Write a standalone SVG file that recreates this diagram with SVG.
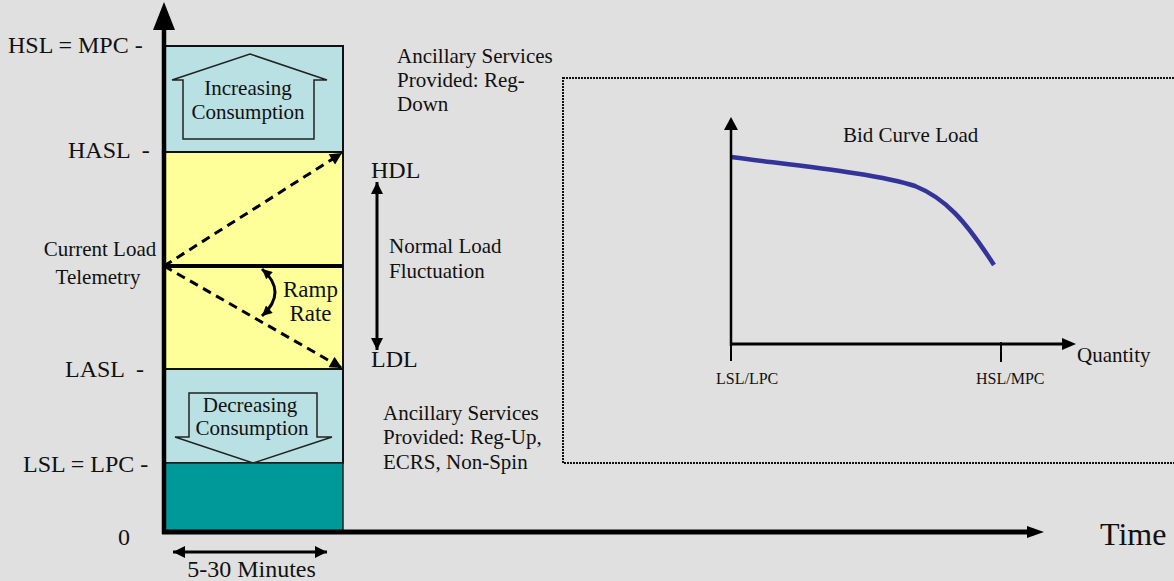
<svg xmlns="http://www.w3.org/2000/svg" width="1174" height="581" viewBox="0 0 1174 581">
<style>
text { font-family: "Liberation Serif", "Times New Roman", serif; fill: #111; }
.t24 { font-size: 24px; }
.t21 { font-size: 21px; }
.t16 { font-size: 16px; }
.band { stroke: #111; stroke-width: 2; }
.blue { fill: #B9E0E3; }
.blockarrow { fill: #B9E0E3; stroke: #222; stroke-width: 1.5; }
.dash { stroke: #000; stroke-width: 3; stroke-dasharray: 9 6; fill: none; }
.solid { stroke: #000; fill: none; }
</style>
<defs>
<marker id="ah" viewBox="0 0 10 10" refX="10" refY="5" markerWidth="14" markerHeight="12" markerUnits="userSpaceOnUse" orient="auto-start-reverse">
<path d="M0,0 L10,5 L0,10 z" fill="#000"/>
</marker>
<marker id="ahs" viewBox="0 0 10 10" refX="10" refY="5" markerWidth="11" markerHeight="10" markerUnits="userSpaceOnUse" orient="auto-start-reverse">
<path d="M0,0 L10,5 L0,10 z" fill="#000"/>
</marker>
<marker id="ahb" viewBox="0 0 10 10" refX="10" refY="5" markerWidth="14" markerHeight="12" markerUnits="userSpaceOnUse" orient="auto-start-reverse">
<path d="M0,0 L10,5 L0,10 z" fill="#000"/>
</marker>
</defs>
<rect x="0" y="0" width="1174" height="581" fill="#E0E0E0"/>

<g id="band-increasing">
<rect class="band blue" x="164" y="46" width="179" height="106"/>
<polygon class="blockarrow" points="250,54 327,80 314,80 314,139 183,139 183,80 172,80"/>
<text class="t21" x="248" y="95" text-anchor="middle">Increasing</text>
<text class="t21" x="248" y="119" text-anchor="middle">Consumption</text>
</g>
<g id="band-normal">
<rect class="band" x="164" y="152" width="179" height="217" fill="#FFFF99"/>
<line x1="164" y1="266" x2="343" y2="266" stroke="#000" stroke-width="4"/>
</g>
<g id="band-decreasing">
<rect class="band blue" x="164" y="369" width="179" height="94"/>
<polygon class="blockarrow" points="189,393 317,393 317,437 332,437 253,463 175,437 189,437"/>
<text class="t21" x="250" y="412" text-anchor="middle">Decreasing</text>
<text class="t21" x="252" y="435" text-anchor="middle">Consumption</text>
</g>
<g id="band-base">
<rect x="164" y="463" width="179" height="69" fill="#009999" stroke="#222" stroke-width="1.5"/>
</g>

<g id="labels-left">
<text class="t24" x="8" y="53">HSL = MPC -</text>
<text class="t24" x="68" y="158" xml:space="preserve">HASL  -</text>
<text class="t21" x="100" y="256" text-anchor="middle">Current Load</text>
<text class="t21" x="98" y="284" text-anchor="middle">Telemetry</text>
<text class="t24" x="65" y="377" xml:space="preserve">LASL  -</text>
<text class="t24" x="23" y="472">LSL = LPC -</text>
<text class="t24" x="118" y="545">0</text>
<text class="t24" x="251.5" y="577" text-anchor="middle">5-30 Minutes</text>
</g>

<g id="labels-mid">
<text style="font-size:23px" x="310.5" y="297" text-anchor="middle">Ramp</text>
<text style="font-size:23px" x="310.5" y="321" text-anchor="middle">Rate</text>
<text class="t24" x="371" y="178">HDL</text>
<text class="t24" x="371" y="367">LDL</text>
<text class="t21" x="389" y="253">Normal Load</text>
<text class="t21" x="389" y="278">Fluctuation</text>
<text class="t21" x="397" y="63">Ancillary Services</text>
<text class="t21" x="397" y="87">Provided: Reg-</text>
<text class="t21" x="397" y="111">Down</text>
<text class="t21" x="383" y="420">Ancillary Services</text>
<text class="t21" x="383" y="444">Provided: Reg-Up,</text>
<text class="t21" x="383" y="469">ECRS, Non-Spin</text>
<text x="1100" y="545" style="font-size:32px">Time</text>
</g>

<g id="bid-curve-panel">
<rect x="563" y="78" width="625" height="385" fill="none" stroke="#111" stroke-width="2" stroke-dasharray="2 1"/>
<text class="t21" x="843" y="142">Bid Curve Load</text>
<text class="t21" x="1077" y="362">Quantity</text>
<text class="t16" x="716" y="384">LSL/LPC</text>
<text class="t16" x="976" y="384">HSL/MPC</text>
<line x1="731" y1="344" x2="731" y2="361" stroke="#000" stroke-width="2"/>
<line x1="1001" y1="342" x2="1001" y2="362" stroke="#000" stroke-width="2"/>
<path d="M731,157 C800,166 880,174 915,186 C945,198 965,220 994,265" fill="none" stroke="#333399" stroke-width="4.5"/>
</g>

<g id="connectors">
<line class="solid" x1="164" y1="534" x2="164" y2="28" stroke-width="4.5"/>
<polygon points="164,2 153,30 175,30" fill="#000"/>
<line class="solid" x1="162" y1="532" x2="1030" y2="532" stroke-width="5"/>
<polygon points="1027,526 1044,532 1027,538" fill="#000"/>
<line class="dash" x1="164" y1="266" x2="342" y2="153" marker-end="url(#ah)"/>
<line class="dash" x1="164" y1="266" x2="342" y2="368" marker-end="url(#ah)"/>
<path class="solid" d="M262,269 Q288,292 262,316" stroke-width="3" marker-start="url(#ahs)" marker-end="url(#ahs)"/>
<line class="solid" x1="377" y1="182" x2="377" y2="350" stroke-width="3" marker-start="url(#ahb)" marker-end="url(#ahb)"/>
<line class="solid" x1="173" y1="552" x2="327" y2="552" stroke-width="3" marker-start="url(#ahb)" marker-end="url(#ahb)"/>
<line class="solid" x1="731" y1="346" x2="731" y2="125" stroke-width="2.5"/>
<polygon points="731,117 724,130 738,130" fill="#000"/>
<line class="solid" x1="730" y1="344" x2="1065" y2="344" stroke-width="3"/>
<polygon points="1062,338 1076,344 1062,350" fill="#000"/>
</g>
</svg>
